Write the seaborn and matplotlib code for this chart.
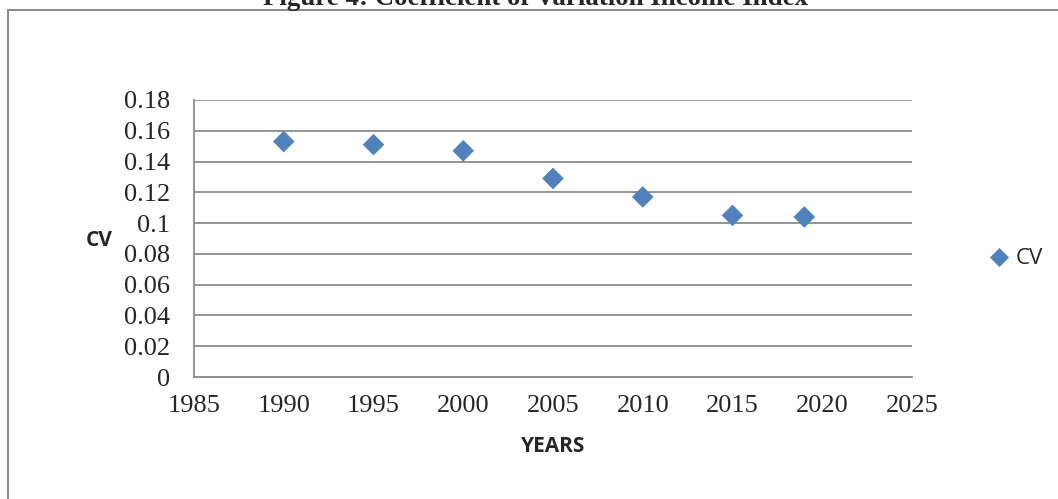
import pandas as pd
import matplotlib.pyplot as plt
import seaborn as sns
from matplotlib.patches import Rectangle

# Data
years = [1990, 1995, 2000, 2005, 2010, 2015, 2019]
cv = [0.153, 0.151, 0.147, 0.129, 0.117, 0.105, 0.104]
x_ticks = [1985, 1990, 1995, 2000, 2005, 2010, 2015, 2020, 2025]
y_ticks = [0, 0.02, 0.04, 0.06, 0.08, 0.1, 0.12, 0.14, 0.16, 0.18]
y_labels = ["0", "0.02", "0.04", "0.06", "0.08", "0.1", "0.12", "0.14", "0.16", "0.18"]

df = pd.DataFrame({"year": years, "CV": cv, "series": "CV"})

sns.set_style("white")
plt.rcParams["font.family"] = ["Liberation Serif", "DejaVu Serif"]

W, H = 1058, 499
fig = plt.figure(figsize=(W / 100, H / 100), dpi=100)
ax = fig.add_axes([194 / W, 1 - 377 / H, (912 - 194) / W, (377 - 100) / H])

sns.scatterplot(data=df, x="year", y="CV", hue="series", palette=["#4F81BD"],
                marker="D", s=110, edgecolor="#4F81BD", linewidth=0.5, ax=ax, zorder=3)

ax.set_xlim(1985, 2025)
ax.set_ylim(0, 0.18)
ax.set_xticks(x_ticks)
ax.set_yticks(y_ticks)
ax.set_yticklabels(y_labels)
ax.tick_params(axis="both", labelsize=19, length=5, width=1.2, color="#888888",
               direction="out")
ax.tick_params(axis="y", pad=12)
ax.tick_params(axis="x", pad=8)
ax.grid(axis="y", color="#8c8c8c", linewidth=1.3)
ax.grid(axis="x", visible=False)
for side in ["top", "right"]:
    ax.spines[side].set_visible(False)
for side in ["left", "bottom"]:
    ax.spines[side].set_color("#8c8c8c")
    ax.spines[side].set_linewidth(1.3)

ax.set_xlabel("YEARS", fontsize=15, fontweight="bold", family=["Open Sans", "DejaVu Sans"])
ax.xaxis.set_label_coords((553 - 194) / (912 - 194), -(447 - 377) / (377 - 100))
ax.xaxis.label.set_va("center")
ax.set_ylabel("CV", fontsize=15, fontweight="bold", family=["Open Sans", "DejaVu Sans"],
              rotation=0, ha="center", va="center")
ax.yaxis.set_label_coords(-(194 - 99) / (912 - 194), (377 - 240) / (377 - 100))

leg = ax.legend(loc="center left", bbox_to_anchor=((977 - 194) / (912 - 194), (377 - 259) / (377 - 100)),
                frameon=False, handletextpad=0.15, handlelength=1.2, borderaxespad=0,
                prop={"family": "Open Sans", "size": 16})
for h in leg.legend_handles:
    h.set_markersize(9.5)

fig.text(535 / W, 1 - 5 / H, "Figure 4: Coefficient of Variation Income Index", ha="center",
         va="baseline", fontsize=19.4, fontweight="bold")

fig.patches.append(Rectangle((8 / W, -0.1), 1.2, 1 - 10 / H + 0.1, transform=fig.transFigure,
                             fill=False, edgecolor="#8c8c8c", linewidth=1.5))

fig.savefig("out.png", dpi=100)
